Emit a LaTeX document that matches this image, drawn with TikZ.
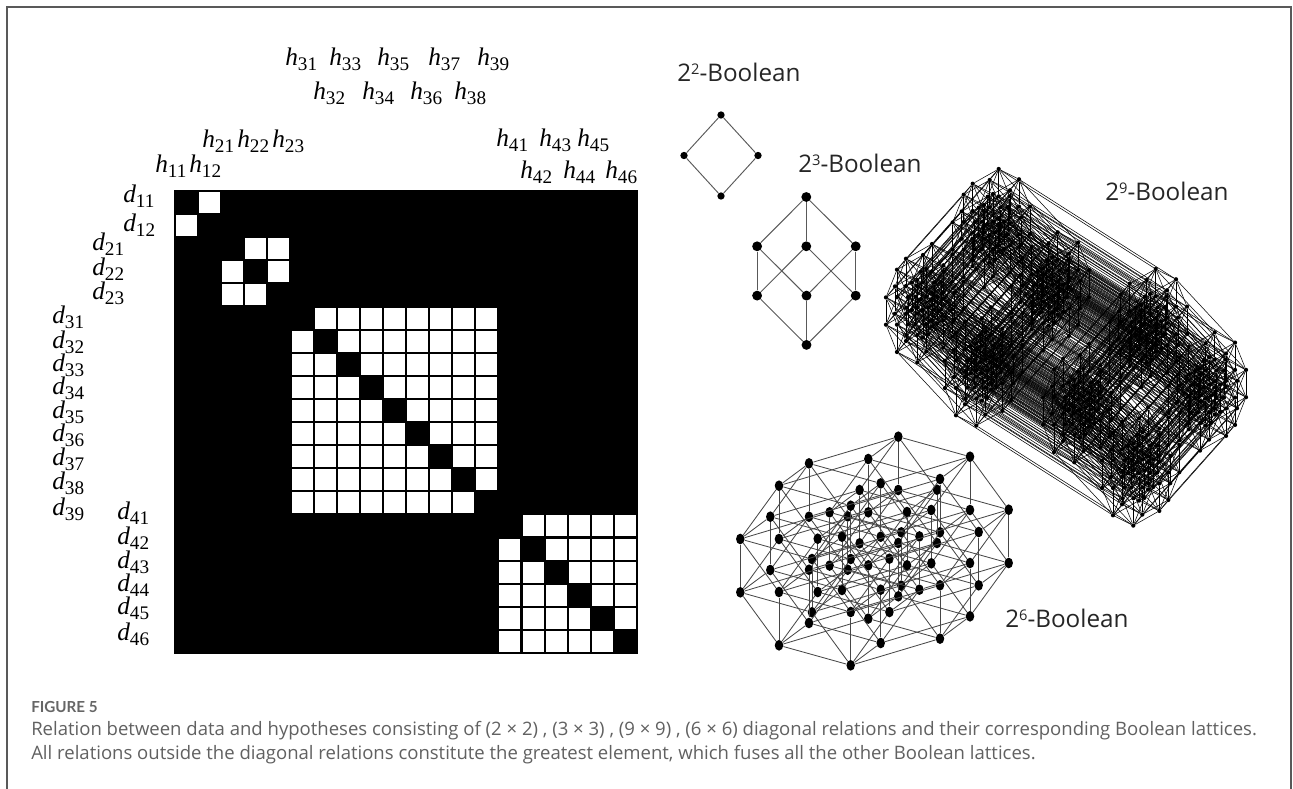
\documentclass[tikz,border=0pt]{standalone}
\usepackage{fontspec}
\usetikzlibrary{shapes.geometric}
\setmainfont{Open Sans}
\newfontfamily\figfont{Lato}
\newfontfamily\labfont{Liberation Serif}
\newfontfamily\boolfont{Open Sans}
\newcount\bitc
\newdimen\posx
\newdimen\posy
% \lattice{prefix}{x0}{y0}{nodes-1}{gx/gy/w list}{node style}{edge style}
\newcommand\lattice[7]{%
  \foreach \i in {0,...,#4}{%
    \global\posx=#2pt \global\posy=#3pt
    \foreach \gx/\gy/\w in {#5}{%
      \bitc=\i\relax \divide\bitc by \w\relax
      \ifodd\bitc
        \global\advance\posx by \gx pt\relax
        \global\advance\posy by \gy pt\relax
      \fi}%
    \global\posx=0.75\posx \global\posy=-0.75\posy
    \node[#6] (#1\i) at (\the\posx,\the\posy) {};
  }%
  \foreach \i in {0,...,#4}{%
    \foreach \gx/\gy/\w in {#5}{%
      \bitc=\i\relax \divide\bitc by \w\relax
      \ifodd\bitc\else
        \pgfmathtruncatemacro\j{\i+\w}%
        \draw[#7] (#1\i) -- (#1\j);
      \fi}%
  }%
}
\newcommand\idx[2]{{\labfont\itshape #1}\raisebox{-3.75pt}{\labfont\fontsize{14.4}{15}\selectfont #2}}
\newcommand\bool[1]{\boolfont 2\raisebox{5.2pt}{\fontsize{11}{12}\selectfont #1}-Boolean}
\tikzset{
  hlab/.style={anchor=base west,inner sep=0pt,font=\fontsize{19}{20}\selectfont},
  boollab/.style={anchor=base west,inner sep=0pt,text=black!85,font=\fontsize{18.2}{20}\selectfont},
  captext/.style={anchor=base west,inner sep=0pt,text=black!62,font=\fontsize{13.9}{15}\selectfont},
  dotA/.style={circle,fill=black,inner sep=0pt,minimum size=5.5pt},
  dotB/.style={circle,fill=black,inner sep=0pt,minimum size=7.4pt},
  dotC/.style={ellipse,fill=black,inner sep=0pt,minimum width=6.4pt,minimum height=8pt},
  dotD/.style={circle,fill=black,inner sep=0pt,minimum size=3.2pt},
  edgeA/.style={draw=black!65,line width=0.7pt},
  edgeC/.style={draw=black!72,line width=0.62pt},
  edgeD/.style={draw=black,line width=0.4pt},
}
\begin{document}
\begin{tikzpicture}[x=0.75pt,y=-0.75pt]
\useasboundingbox (0,0) rectangle (1293,789);
\fill[white] (0,0) rectangle (1293,789);
\draw[black!65,line width=1.1pt] (7,789) -- (7,7) -- (1291,7) -- (1291,789);

% relation matrix
\fill[black] (174.2,190) rectangle (637.5,654);
\foreach \lo/\hi in {0/1,2/4,5/13,14/19}{
  \foreach \r in {\lo,...,\hi}{
    \foreach \c in {\lo,...,\hi}{
      \ifnum\r=\c\else
        \fill[white] ({176+23.1*\c},{192+23.1*\r}) rectangle ++(21,21);
      \fi
    }
  }
}

% hypothesis labels
\foreach \n/\x/\y/\a/\b in {
 h31/285/65/h/31,h33/329/65/h/33,h35/377/65/h/35,h37/428/65/h/37,h39/477/65/h/39,
 h32/313/99/h/32,h34/362/99/h/34,h36/410/99/h/36,h38/454/99/h/38,
 h21/202/147/h/21,h22/237/147/h/22,h23/272/147/h/23,
 h11/155/172/h/11,h12/189/172/h/12,
 h41/496/146/h/41,h43/539/146/h/43,h45/577/146/h/45,
 h42/520/178/h/42,h44/563/178/h/44,h46/605/178/h/46,
 d11/123/202/d/11,d12/123/231/d/12,
 d21/92/250/d/21,d22/92/275/d/22,d23/92/299/d/23,
 d31/52/323/d/31,d32/52/348/d/32,d33/52/371/d/33,d34/52/394/d/34,d35/52/418/d/35,
 d36/52/441/d/36,d37/52/465/d/37,d38/52/489/d/38,d39/52/515/d/39,
 d41/117/519/d/41,d42/117/544/d/42,d43/117/568/d/43,d44/117/591/d/44,d45/117/614/d/45,d46/117/640/d/46}{
  \node[hlab] (\n) at (\x,\y) {\idx{\a}{\b}};
}

% lattices
\lattice{a}{721}{115}{3}{-37/40.5/1,37/40.5/2}{dotA}{edgeA}
\lattice{b}{806.3}{197}{7}{-49.2/49.3/1,0/49.3/2,49.4/49.3/4}{dotB}{edgeA}
\lattice{c}{898.3}{436.7}{63}{71.7/20/1,38.7/53/2,0/53.3/4,-38.7/53.3/8,-30/22.3/16,-89.3/26.7/32}{dotC}{edgeC}
\lattice{e}{998.7}{169}{511}{20.3/10.3/1,157/100/2,59/63.3/4,11/27.3/8,0/27.3/16,-11/27.7/32,-66.7/75/64,-9/11/128,-26/14.7/256}{dotD}{edgeD}

\node[boollab] (b2) at (677,81) {\bool{2}};
\node[boollab] (b3) at (798,172) {\bool{3}};
\node[boollab] (b9) at (1105,200) {\bool{9}};
\node[boollab] (b6) at (1005,627) {\bool{6}};

% caption
\node[captext,font=\fontsize{11.4}{13}\selectfont\figfont\bfseries,text=black!60] (c0) at (31,712) {FIGURE 5};
\node[captext] (c1) at (31,735) {Relation between data and hypotheses consisting of (2 × 2) , (3 × 3) , (9 × 9) , (6 × 6) diagonal relations and their corresponding Boolean lattices.};
\node[captext] (c2) at (31,759) {All relations outside the diagonal relations constitute the greatest element, which fuses all the other Boolean lattices.};
\end{tikzpicture}
\end{document}
